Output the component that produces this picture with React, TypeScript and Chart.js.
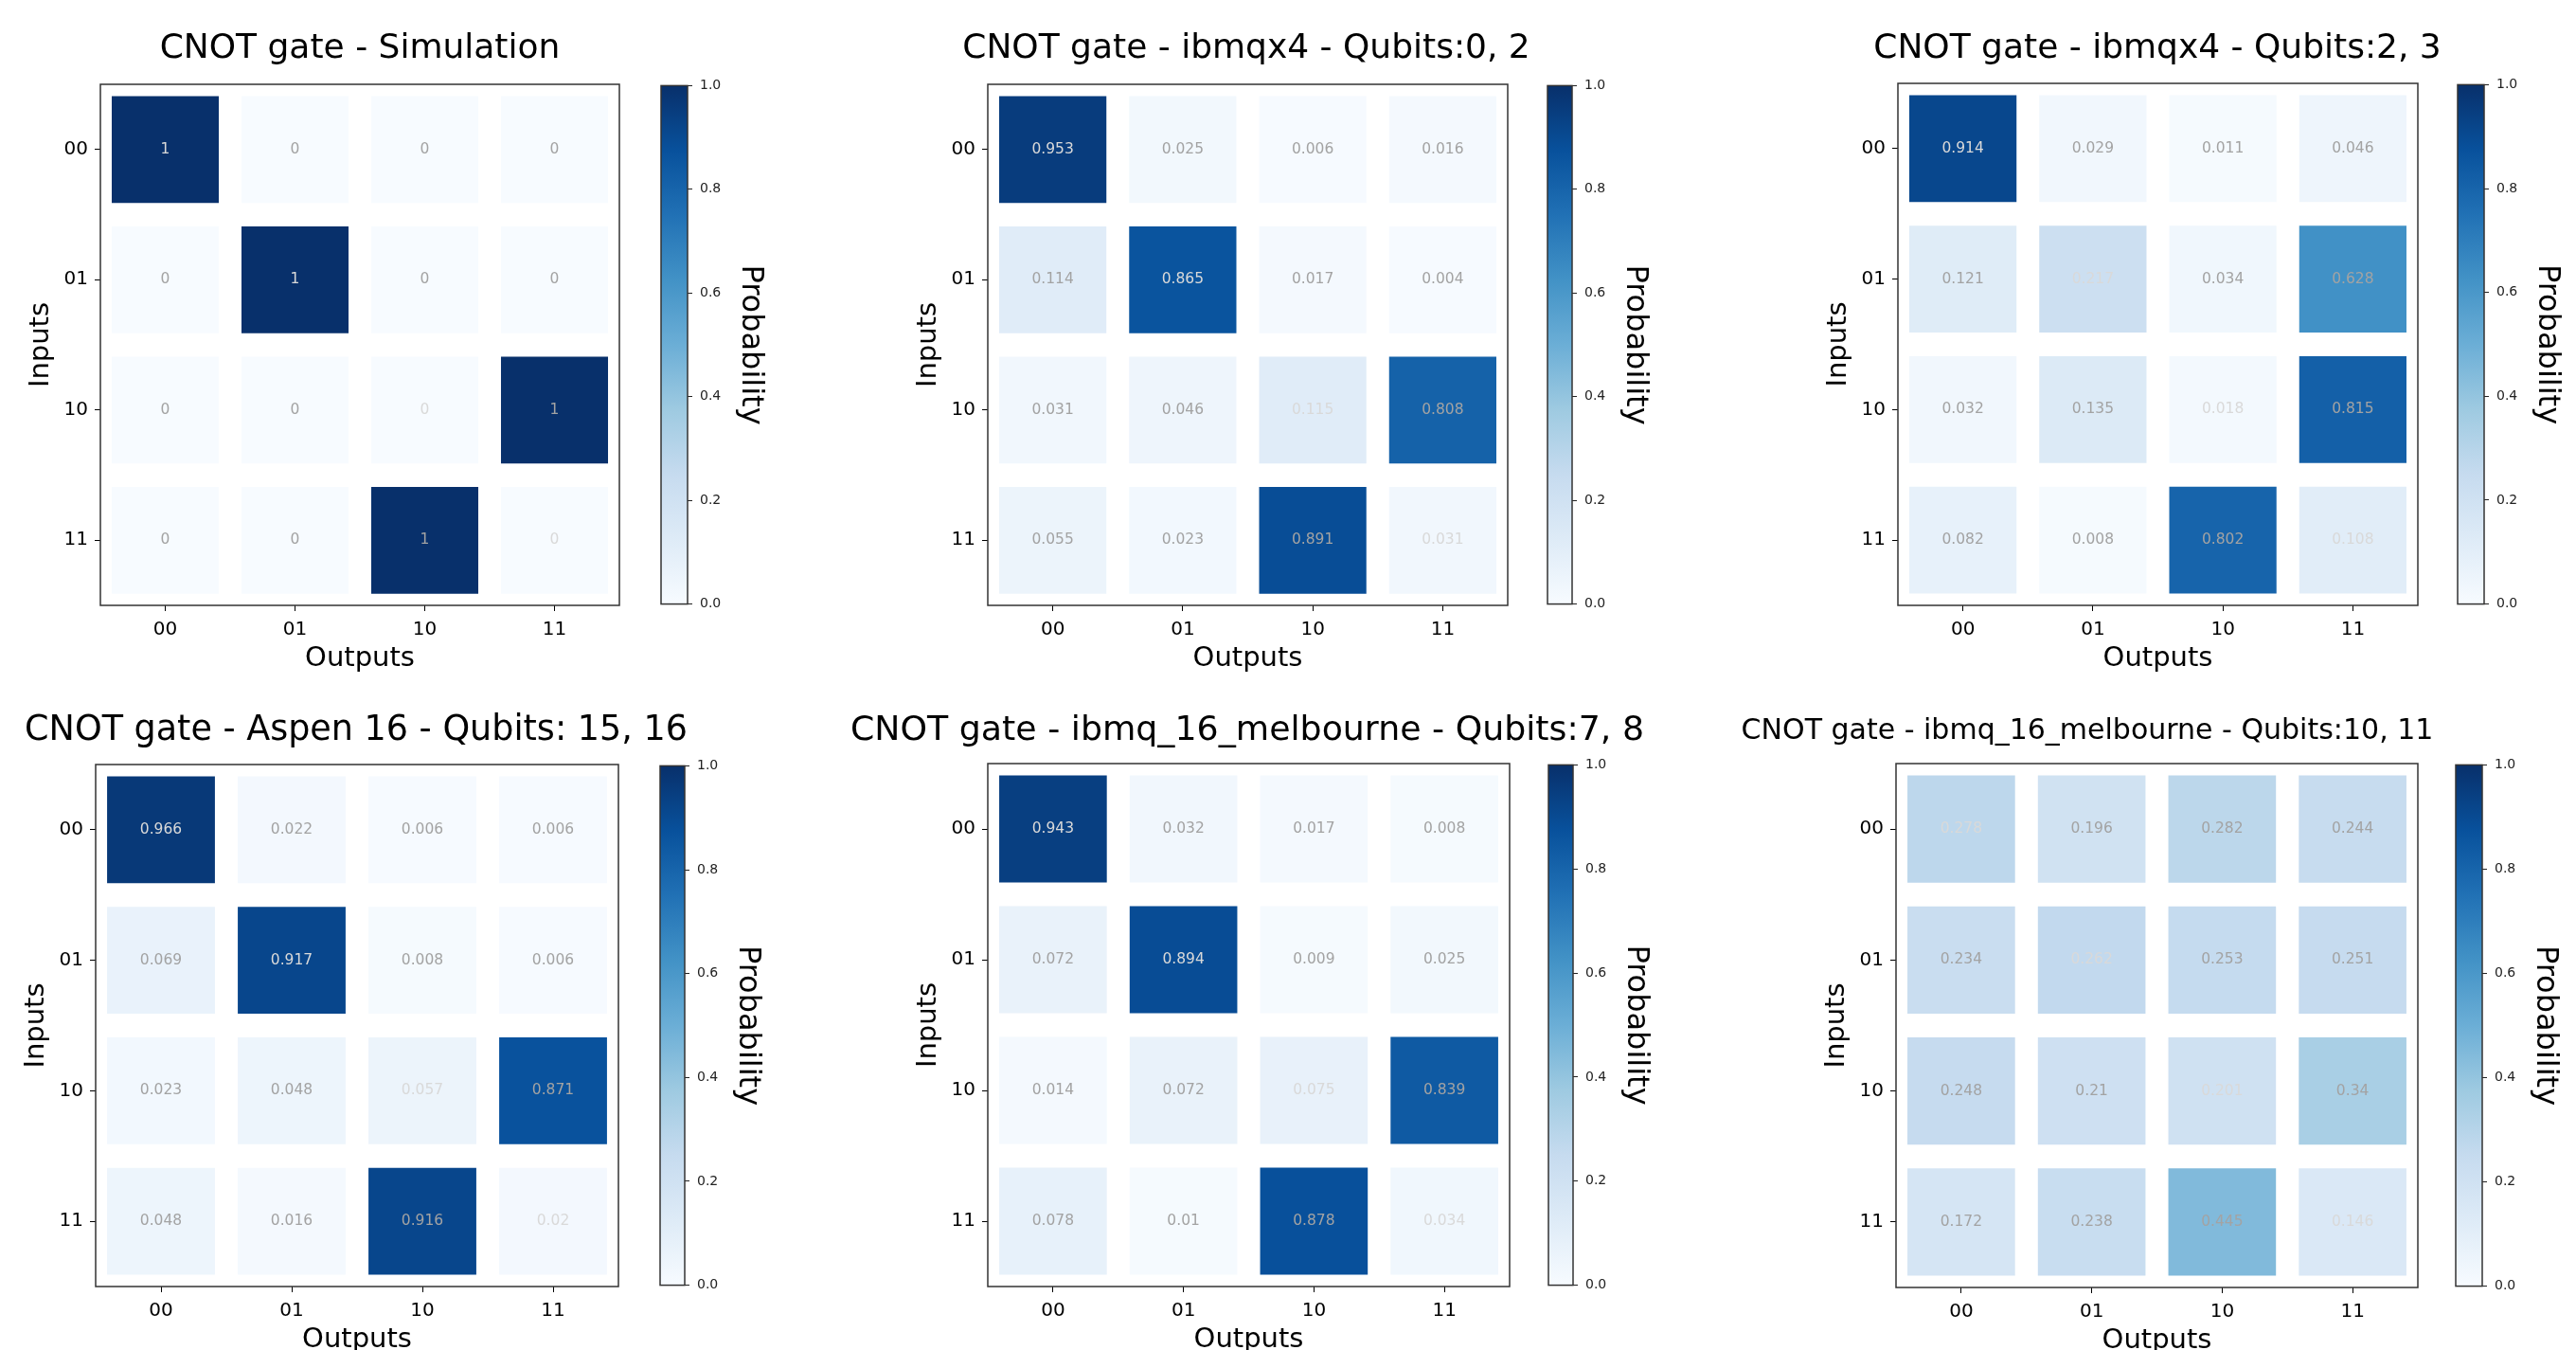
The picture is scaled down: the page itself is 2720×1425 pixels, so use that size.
import React, { useEffect, useRef } from 'react';
import { Chart, registerables } from 'chart.js';

Chart.register(...registerables);

const FONT_FAMILY = "'DejaVu Sans', 'Liberation Sans', Arial, sans-serif";
Chart.defaults.font.family = FONT_FAMILY;
Chart.defaults.color = '#000';

// ---------- data ----------
const outputLabels = ['00', '01', '10', '11'];
const inputLabels = ['00', '01', '10', '11'];
const colorbarTicks = [0, 0.2, 0.4, 0.6, 0.8, 1.0];

const simulation = [
  [1, 0, 0, 0],
  [0, 1, 0, 0],
  [0, 0, 0, 1],
  [0, 0, 1, 0],
];
const ibmqx4Q02 = [
  [0.953, 0.025, 0.006, 0.016],
  [0.114, 0.865, 0.017, 0.004],
  [0.031, 0.046, 0.115, 0.808],
  [0.055, 0.023, 0.891, 0.031],
];
const ibmqx4Q23 = [
  [0.914, 0.029, 0.011, 0.046],
  [0.121, 0.217, 0.034, 0.628],
  [0.032, 0.135, 0.018, 0.815],
  [0.082, 0.008, 0.802, 0.108],
];
const aspen16Q1516 = [
  [0.966, 0.022, 0.006, 0.006],
  [0.069, 0.917, 0.008, 0.006],
  [0.023, 0.048, 0.057, 0.871],
  [0.048, 0.016, 0.916, 0.02],
];
const melbourneQ78 = [
  [0.943, 0.032, 0.017, 0.008],
  [0.072, 0.894, 0.009, 0.025],
  [0.014, 0.072, 0.075, 0.839],
  [0.078, 0.01, 0.878, 0.034],
];
const melbourneQ1011 = [
  [0.278, 0.196, 0.282, 0.244],
  [0.234, 0.262, 0.253, 0.251],
  [0.248, 0.21, 0.201, 0.34],
  [0.172, 0.238, 0.445, 0.146],
];

// ---------- colormap (matplotlib "Blues") ----------
const BLUES = ['#f7fbff', '#deebf7', '#c6dbef', '#9ecae1', '#6baed6', '#4292c6', '#2171b5', '#08519c', '#08306b'];

function hexRgb(h: string): number[] {
  return [parseInt(h.slice(1, 3), 16), parseInt(h.slice(3, 5), 16), parseInt(h.slice(5, 7), 16)];
}
function blues(v: number): string {
  const t = Math.max(0, Math.min(1, v)) * (BLUES.length - 1);
  const i = Math.min(BLUES.length - 2, Math.floor(t));
  const f = t - i;
  const a = hexRgb(BLUES[i]);
  const b = hexRgb(BLUES[i + 1]);
  const c = a.map((x, k) => Math.round(x + (b[k] - x) * f));
  return `rgb(${c[0]},${c[1]},${c[2]})`;
}

// ---------- layout ----------
type Panel = {
  title: string;
  values: number[][];
  plot: number[]; // left, top, right, bottom
  titleX: number;
  titleY: number;
  titleSize: number;
  cb: number[]; // colorbar left, right
};

const panels: Panel[] = [
  { title: 'CNOT gate - Simulation', values: simulation, plot: [106, 89, 654, 639], titleX: 380, titleY: 52, titleSize: 36, cb: [698, 726] },
  { title: 'CNOT gate - ibmqx4 - Qubits:0, 2', values: ibmqx4Q02, plot: [1043, 89, 1592, 639], titleX: 1316, titleY: 52, titleSize: 36, cb: [1634, 1660] },
  { title: 'CNOT gate - ibmqx4 - Qubits:2, 3', values: ibmqx4Q23, plot: [2004, 88, 2553, 639], titleX: 2278, titleY: 52, titleSize: 36, cb: [2595, 2623] },
  { title: 'CNOT gate - Aspen 16 - Qubits: 15, 16', values: aspen16Q1516, plot: [101, 807, 653, 1358], titleX: 376, titleY: 772, titleSize: 36.5, cb: [697, 723] },
  { title: 'CNOT gate - ibmq_16_melbourne - Qubits:7, 8', values: melbourneQ78, plot: [1043, 806, 1594, 1358], titleX: 1317, titleY: 772, titleSize: 36.3, cb: [1635, 1661] },
  { title: 'CNOT gate - ibmq_16_melbourne - Qubits:10, 11', values: melbourneQ1011, plot: [2002, 806, 2553, 1359], titleX: 2204, titleY: 772, titleSize: 30, cb: [2593, 2621] },
];

const frameBorder = {
  id: 'frameBorder',
  afterDraw(chart: any) {
    const { ctx, chartArea: a } = chart;
    ctx.save();
    ctx.strokeStyle = '#333';
    ctx.lineWidth = 1.5;
    ctx.strokeRect(a.left, a.top, a.right - a.left, a.bottom - a.top);
    ctx.restore();
  },
};

function Heatmap({ panel }: { panel: Panel }) {
  const ref = useRef<HTMLCanvasElement>(null);
  const [pl, pt, pr, pb] = panel.plot;
  const extraL = 150;
  const yAxisW = 100;
  const xAxisH = 80;
  const extraR = 250;
  const cL = pl - yAxisW - extraL;
  const cT = pt - 89;
  const width = extraL + yAxisW + (pr - pl) + extraR;
  const height = pb - cT + xAxisH;

  useEffect(() => {
    const canvas = ref.current;
    if (!canvas) return;
    const vals = panel.values;
    const datasets = vals.map((row, r) => ({
      label: inputLabels[r],
      data: row.map(() => [r - 0.41, r + 0.41]),
      backgroundColor: row.map((v) => blues(v)),
      borderWidth: 0,
      grouped: false,
      barPercentage: 0.825,
      categoryPercentage: 1,
    }));

    const titlePlugin = {
      id: 'panelTitle',
      afterDraw(chart: any) {
        const ctx = chart.ctx;
        ctx.save();
        ctx.font = `${panel.titleSize}px ${FONT_FAMILY}`;
        ctx.fillStyle = '#000';
        ctx.textAlign = 'center';
        ctx.textBaseline = 'middle';
        ctx.fillText(panel.title, panel.titleX - cL, panel.titleY - cT);
        ctx.restore();
      },
    };

    const cellText = {
      id: 'cellText',
      afterDatasetsDraw(chart: any) {
        const { ctx, scales } = chart;
        ctx.save();
        ctx.font = `15.5px ${FONT_FAMILY}`;
        ctx.textAlign = 'center';
        ctx.textBaseline = 'middle';
        vals.forEach((row, r) => {
          row.forEach((v, c) => {
            ctx.fillStyle = r === c ? '#d9d9d9' : '#a3a3a3';
            ctx.fillText(String(v), scales.x.getPixelForValue(c), scales.y.getPixelForValue(r));
          });
        });
        ctx.restore();
      },
    };

    const chart = new Chart(canvas, {
      type: 'bar',
      data: { labels: outputLabels, datasets: datasets as any },
      options: {
        responsive: false,
        animation: false,
        devicePixelRatio: 1,
        layout: { padding: { left: extraL, right: extraR, top: pt - cT, bottom: 0 } },
        plugins: { legend: { display: false }, tooltip: { enabled: false }, title: { display: false } },
        scales: {
          x: {
            type: 'category',
            offset: true,
            grid: { offset: false, drawOnChartArea: false, drawTicks: true, tickLength: 6, color: '#000', lineWidth: 1 },
            border: { display: false },
            ticks: { color: '#000', font: { size: 20 }, padding: 8, maxRotation: 0, autoSkip: false },
            title: { display: true, text: 'Outputs', color: '#000', font: { size: 29 }, padding: { top: 0, bottom: 6 } },
            afterFit: (s: any) => {
              s.height = xAxisH;
            },
          },
          y: {
            type: 'linear',
            min: -0.5,
            max: 3.5,
            reverse: true,
            afterBuildTicks: (s: any) => {
              s.ticks = inputLabels.map((_, i) => ({ value: i }));
            },
            grid: { drawOnChartArea: false, drawTicks: true, tickLength: 6, color: '#000', lineWidth: 1 },
            border: { display: false },
            ticks: {
              color: '#000',
              font: { size: 20 },
              padding: 7,
              autoSkip: false,
              callback: (v: any) => inputLabels[Number(v)] ?? '',
            },
            title: { display: true, text: 'Inputs', color: '#000', font: { size: 29 }, padding: { top: 20, bottom: 0 } },
            afterFit: (s: any) => {
              s.width = yAxisW;
            },
          },
        },
      } as any,
      plugins: [frameBorder, cellText, titlePlugin],
    });
    return () => chart.destroy();
  }, [panel]);

  return (
    <canvas
      ref={ref}
      width={width}
      height={height}
      style={{ position: 'absolute', left: cL, top: cT, width, height }}
    />
  );
}

function Colorbar({ panel }: { panel: Panel }) {
  const ref = useRef<HTMLCanvasElement>(null);
  const [, pt, , pb] = panel.plot;
  const [bl, br] = panel.cb;
  const padL = 10;
  const axisW = 110;
  const padV = 15;
  const cL = bl - padL;
  const cT = pt - padV;
  const width = padL + (br - bl) + axisW;
  const height = pb - pt + 2 * padV;

  useEffect(() => {
    const canvas = ref.current;
    if (!canvas) return;
    const chart = new Chart(canvas, {
      type: 'bar',
      data: {
        labels: ['Probability'],
        datasets: [
          {
            data: [[colorbarTicks[0], colorbarTicks[colorbarTicks.length - 1]]] as any,
            backgroundColor: (c: any) => {
              const { ctx, chartArea, scales } = c.chart;
              if (!chartArea) return BLUES[4];
              const y0 = scales.y.getPixelForValue(0);
              const y1 = scales.y.getPixelForValue(1);
              const g = ctx.createLinearGradient(0, y0, 0, y1);
              BLUES.forEach((col, i) => g.addColorStop(i / (BLUES.length - 1), col));
              return g;
            },
            borderWidth: 0,
            barPercentage: 1,
            categoryPercentage: 1,
          },
        ],
      },
      options: {
        responsive: false,
        animation: false,
        devicePixelRatio: 1,
        layout: { padding: { left: padL, right: 0, top: padV, bottom: padV } },
        plugins: { legend: { display: false }, tooltip: { enabled: false } },
        scales: {
          x: { display: false },
          y: {
            position: 'right',
            min: 0,
            max: 1,
            afterBuildTicks: (s: any) => {
              s.ticks = colorbarTicks.map((v) => ({ value: v }));
            },
            grid: { drawOnChartArea: false, drawTicks: true, tickLength: 5, color: '#222', lineWidth: 1 },
            border: { display: false },
            ticks: {
              color: '#222',
              font: { size: 14 },
              padding: 8,
              autoSkip: false,
              callback: (v: any) => Number(v).toFixed(1),
            },
            title: { display: true, text: 'Probability', color: '#000', font: { size: 32 }, padding: { top: 24, bottom: 0 } },
            afterFit: (s: any) => {
              s.width = axisW;
            },
          },
        },
      } as any,
      plugins: [frameBorder],
    });
    return () => chart.destroy();
  }, [panel]);

  return (
    <canvas
      ref={ref}
      width={width}
      height={height}
      style={{ position: 'absolute', left: cL, top: cT, width, height }}
    />
  );
}

export default function App() {
  return (
    <div
      style={{
        position: 'fixed',
        left: 0,
        top: 0,
        width: 2720,
        height: 1425,
        overflow: 'hidden',
        background: '#fff',
      }}
    >
      {panels.map((p, i) => (
        <React.Fragment key={i}>
          <Heatmap panel={p} />
          <Colorbar panel={p} />
        </React.Fragment>
      ))}
    </div>
  );
}
